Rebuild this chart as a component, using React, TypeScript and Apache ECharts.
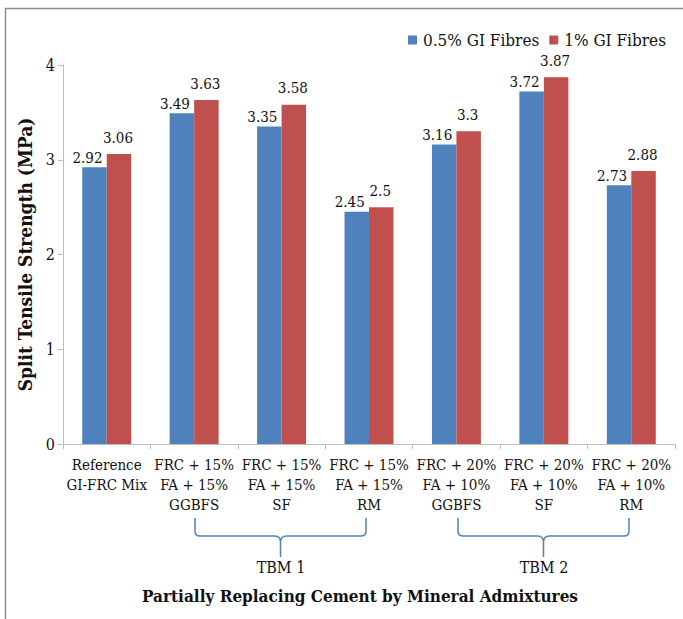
import React, { useEffect, useRef } from "react";
import * as echarts from "echarts";

const categories = [
  "Reference\nGI-FRC Mix",
  "FRC + 15%\nFA + 15%\nGGBFS",
  "FRC + 15%\nFA + 15%\nSF",
  "FRC + 15%\nFA + 15%\nRM",
  "FRC + 20%\nFA + 10%\nGGBFS",
  "FRC + 20%\nFA + 10%\nSF",
  "FRC + 20%\nFA + 10%\nRM",
];
const seriesNames = ["0.5% GI Fibres", "1% GI Fibres"];
const halfPercent = [2.92, 3.49, 3.35, 2.45, 3.16, 3.72, 2.73];
const onePercent = [3.06, 3.63, 3.58, 2.5, 3.3, 3.87, 2.88];
const yTicks = { min: 0, max: 4, interval: 1 };
const groupLabels = ["TBM 1", "TBM 2"];
const xTitle = "Partially Replacing Cement by Mineral Admixtures";
const yTitle = "Split Tensile Strength (MPa)";

const FONT = "DejaVu Serif Condensed, DejaVu Serif";
const BRACE_D =
  "M0 0 L0 13 Q0 18 5 18 L79.5 18 Q85.5 18 85.5 24 L85.5 39 M85.5 24 Q85.5 18 91.5 18 L166 18 Q171 18 171 13 L171 0";

export default function App() {
  const ref = useRef<HTMLDivElement>(null);
  useEffect(() => {
    if (!ref.current) return;
    try {
      echarts.graphic.registerShape("brace", echarts.graphic.extendPath(BRACE_D, {}) as any);
    } catch (e) {}
    const chart = echarts.init(ref.current, undefined, { renderer: "svg" });
    const labelBase = { show: true, position: "top", fontFamily: FONT, fontSize: 15, color: "#111" };
    chart.setOption({
      animation: false,
      backgroundColor: "#fff",
      textStyle: { fontFamily: FONT },
      grid: { left: 63, right: 8, top: 65, bottom: 175, containLabel: false },
      legend: {
        right: 12,
        top: 25,
        itemWidth: 9,
        itemHeight: 9,
        itemGap: 10,
        icon: "rect",
        textStyle: { fontFamily: FONT, fontSize: 17, color: "#111", lineHeight: 20, padding: [0, 0, 0, 1] },
        data: seriesNames,
      },
      xAxis: {
        type: "category",
        data: categories,
        axisLine: { show: true, lineStyle: { color: "#bfbfbf", width: 1 } },
        axisTick: { show: true, length: 5, alignWithLabel: false, lineStyle: { color: "#bfbfbf" } },
        axisLabel: {
          interval: 0,
          margin: 11,
          fontFamily: FONT,
          fontSize: 15,
          lineHeight: 20,
          color: "#111",
        },
        splitLine: { show: false },
      },
      yAxis: {
        type: "value",
        min: yTicks.min,
        max: yTicks.max,
        interval: yTicks.interval,
        name: yTitle,
        nameLocation: "middle",
        nameGap: 25,
        nameRotate: 90,
        nameTextStyle: { fontFamily: FONT, fontSize: 19, fontWeight: "bold", color: "#111" },
        axisLine: { show: true, lineStyle: { color: "#bfbfbf", width: 1 } },
        axisTick: { show: true, length: 5, lineStyle: { color: "#bfbfbf" } },
        axisLabel: { margin: 8, fontFamily: FONT, fontSize: 16, color: "#111" },
        splitLine: { show: false },
      },
      series: [
        {
          name: seriesNames[0],
          type: "bar",
          data: halfPercent,
          barGap: "0%",
          barCategoryGap: "44%",
          itemStyle: { color: "#4F81BD" },
          label: { ...labelBase, distance: 2, offset: [-7, 0] },
        },
        {
          name: seriesNames[1],
          type: "bar",
          data: onePercent,
          barGap: "0%",
          barCategoryGap: "44%",
          itemStyle: { color: "#C0504D" },
          label: { ...labelBase, distance: 9, offset: [-1, 0] },
        },
      ],
      graphic: [
        {
          type: "rect",
          shape: { x: 5.5, y: 8.5, width: 900, height: 900 },
          style: { fill: "none", stroke: "#8f8f8f", lineWidth: 1.5 },
          silent: true,
        },
        {
          type: "brace",
          x: 195,
          y: 518,
          style: { fill: "none", stroke: "#4F81BD", lineWidth: 1.5 },
          silent: true,
        },
        {
          type: "brace",
          x: 458,
          y: 518,
          style: { fill: "none", stroke: "#4F81BD", lineWidth: 1.5 },
          silent: true,
        },
        {
          type: "text",
          x: 281,
          y: 567,
          style: { text: groupLabels[0], fontFamily: FONT, fontSize: 16, fill: "#111", align: "center", verticalAlign: "middle" },
        },
        {
          type: "text",
          x: 544,
          y: 567,
          style: { text: groupLabels[1], fontFamily: FONT, fontSize: 16, fill: "#111", align: "center", verticalAlign: "middle" },
        },
        {
          type: "text",
          x: 360,
          y: 596,
          style: { text: xTitle, fontFamily: FONT, fontSize: 17, fontWeight: "bold", fill: "#111", align: "center", verticalAlign: "middle" },
        },
      ],
    });
    return () => chart.dispose();
  }, []);
  return <div ref={ref} style={{ position: "absolute", left: 0, top: 0, width: 683, height: 619 }} />;
}
